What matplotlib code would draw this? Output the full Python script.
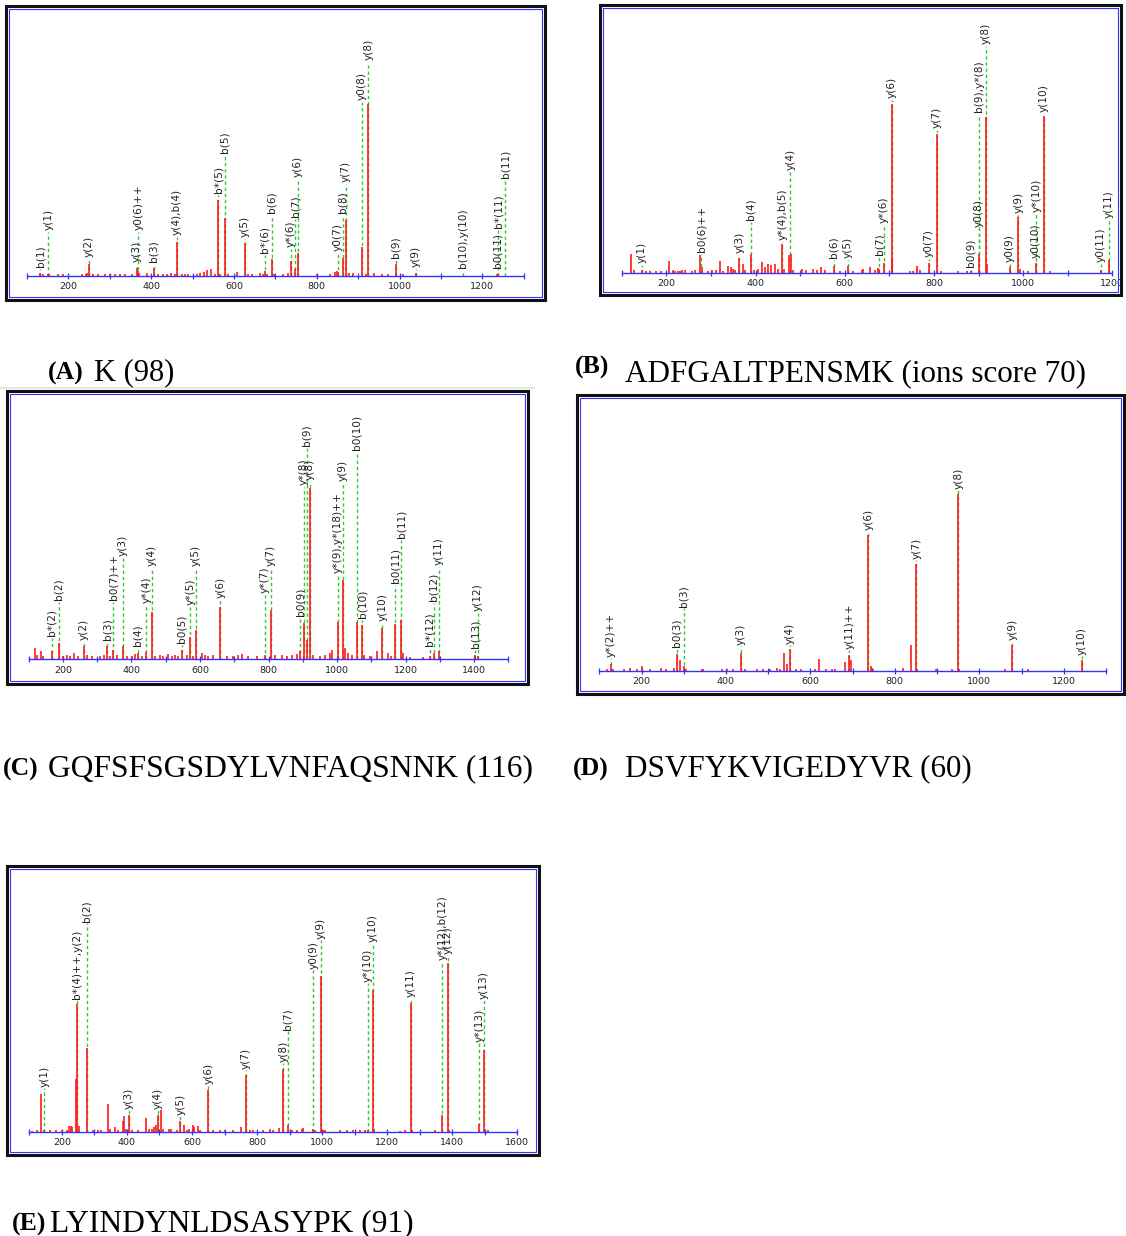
import matplotlib
matplotlib.use("Agg")
import matplotlib.pyplot as plt
from matplotlib.patches import Rectangle
import numpy as np

# ---------------- DATA (m/z, relative intensity) ----------------
# Panel A : K (98)
a_mz = [132, 140, 152, 154, 176, 188, 232, 243, 246, 249, 260, 272, 289, 301, 313, 325, 337, 353,
        365, 369, 371, 389, 407, 417, 429, 438, 447, 458, 463, 474, 482, 490, 510, 518, 528, 534,
        544, 554, 562, 566, 578, 586, 608, 627, 635, 644, 663, 671, 675, 679, 691, 697, 719, 731,
        738, 748, 754, 800, 832, 844, 848, 851, 863, 870, 879, 888, 909, 919, 925, 938, 957, 973,
        991, 1008, 1039, 1235, 1237]
a_int = [3, 2, 2, 2, 2, 2, 2, 2, 3, 12, 2, 2, 2, 2, 2, 2, 2, 2,
         8, 5, 3, 3, 8, 2, 2, 2, 3, 2, 34, 2, 2, 2, 2, 3, 4, 6,
         7, 2, 76, 2, 58, 2, 4, 33, 2, 2, 3, 2, 5, 2, 17, 2, 2, 3,
         15, 7, 23, 2, 2, 4, 5, 4, 18, 56, 3, 3, 29, 2, 172, 3, 2, 2,
         12, 2, 3, 2, 2]
a_lab = ["b(1)", "y(1)", "y(2)", "y(3)", "y0(6)++", "b(3)", "y(4),b(4)", "b*(5)", "b(5)", "y(5)",
         "b*(6)", "b(6)", "y*(6)", "b(7)", "y(6)", "y0(7)", "b(8)", "y(7)", "y0(8)", "y(8)", "b(9)",
         "y(9)", "b(10),y(10)", "b0(11)", "b*(11)", "b(11)"]
a_lab_mz = [132, 152, 249, 365, 369, 407, 463, 562, 578, 627, 675, 691, 738, 748, 754, 851, 863,
            870, 909, 925, 991, 1039, 1154, 1237, 1239, 1255]
a_lab_h = [9, 46, 19, 14, 46, 14, 41, 83, 123, 39, 23, 63, 29, 59, 99, 25, 63, 94, 176, 216, 18,
           9, 8, 8, 48, 98]

# Panel B : ADFGALTPENSMK (ions score 70)
b_mz = [120, 128, 145, 154, 164, 178, 187, 205, 214, 220, 226, 231, 236, 242, 257, 264, 276, 281,
        294, 302, 311, 320, 328, 339, 345, 349, 354, 364, 371, 377, 389, 397, 406, 414, 421, 429,
        434, 444, 451, 460, 465, 475, 480, 485, 504, 513, 530, 537, 547, 556, 575, 590, 607, 619,
        638, 642, 657, 668, 675, 677, 687, 705, 707, 746, 754, 763, 769, 788, 806, 816, 855, 874,
        883, 900, 917, 920, 971, 989, 992, 1010, 1028, 1046, 1060, 1175, 1193]
b_int = [19, 3, 3, 2, 2, 2, 2, 12, 3, 2, 2, 2, 3, 3, 2, 3, 18, 6,
         2, 3, 3, 12, 2, 7, 6, 4, 3, 15, 9, 3, 19, 3, 4, 11, 6, 9,
         8, 9, 4, 29, 4, 18, 19, 3, 4, 3, 4, 3, 6, 3, 7, 2, 7, 2,
         3, 4, 6, 3, 5, 4, 10, 169, 14, 2, 2, 7, 3, 10, 139, 2, 2, 2,
         2, 19, 156, 9, 6, 56, 4, 2, 10, 157, 2, 3, 13]
b_lab = ["y(1)", "b0(6)++", "y(3)", "b(4)", "y*(4),b(5)", "y(4)", "b(6)", "y(5)", "b(7)", "y*(6)",
         "y(6)", "y0(7)", "y(7)", "b0(9)", "y0(8)", "b(9),y*(8)", "y(8)", "y0(9)", "y(9)", "y0(10)",
         "y*(10)", "y(10)", "y0(11)", "y(11)"]
b_lab_mz = [145, 278, 364, 389, 460, 478, 575, 607, 677, 687, 705, 788, 806, 883, 900, 901, 917,
            971, 989, 1028, 1030, 1046, 1175, 1193]
b_lab_h = [10, 21, 20, 53, 33, 103, 15, 15, 18, 50, 175, 16, 145, 6, 46, 161, 229, 11, 60, 15,
           61, 161, 11, 55]

# Panel C : GQFSFSGSDYLVNFAQSNNK (116)
c_mz = [118, 125, 135, 141, 168, 187, 201, 211, 221, 232, 245, 260, 271, 284, 308, 320, 330, 337,
        347, 359, 374, 386, 401, 410, 418, 430, 443, 460, 469, 483, 493, 508, 517, 527, 537, 547,
        561, 572, 581, 588, 605, 615, 624, 639, 659, 678, 697, 712, 722, 741, 766, 789, 807, 819,
        838, 853, 868, 882, 892, 904, 911, 921, 931, 950, 965, 979, 984, 1002, 1018, 1023, 1033,
        1043, 1058, 1074, 1079, 1096, 1116, 1132, 1150, 1159, 1170, 1187, 1192, 1213, 1252, 1271,
        1283, 1298, 1403, 1412]
c_int = [11, 4, 8, 3, 8, 16, 3, 4, 3, 6, 3, 13, 4, 3, 3, 4, 13, 3,
         9, 4, 13, 3, 3, 5, 6, 3, 7, 47, 3, 4, 3, 5, 3, 4, 3, 9,
         4, 22, 3, 29, 6, 4, 3, 4, 52, 3, 3, 4, 5, 3, 3, 4, 49, 4,
         4, 3, 4, 5, 8, 36, 19, 171, 4, 3, 4, 6, 9, 37, 79, 11, 6,
         4, 37, 34, 4, 3, 8, 31, 6, 3, 35, 39, 6, 2, 2, 3,
         6, 8, 4, 3]
c_lab = ["b*(2)", "b(2)", "y(2)", "b(3)", "b0(7)++", "y(3)", "b(4)", "y*(4)", "y(4)", "b0(5)",
         "y*(5)", "y(5)", "y(6)", "y*(7)", "y(7)", "b0(9)", "y*(8)", "b(9)", "y(8)",
         "y*(9),y*(18)++", "y(9)", "b0(10)", "b(10)", "y(10)", "b0(11)", "b(11)", "b*(12)", "b(12)",
         "y(11)", "b(13)", "y(12)"]
c_lab_mz = [168, 187, 260, 330, 347, 374, 418, 443, 460, 547, 572, 588, 659, 789, 807, 892, 904,
            912, 921, 1002, 1018, 1058, 1074, 1132, 1170, 1187, 1271, 1283, 1298, 1403, 1412]
c_lab_h = [23, 59, 19, 19, 59, 103, 13, 56, 93, 16, 54, 93, 61, 66, 93, 43, 174, 213, 179, 86,
           178, 209, 41, 38, 76, 121, 13, 58, 94, 11, 48]

# Panel D : DSVFYKVIGEDYVR (60)
d_mz = [118, 128, 133, 159, 173, 189, 200, 219, 245, 257, 277, 283, 291, 300, 305, 343, 346, 390,
        402, 417, 436, 445, 474, 488, 504, 520, 529, 538, 545, 552, 566, 577, 611, 620, 637, 651,
        658, 681, 692, 696, 737, 743, 747, 749, 820, 838, 851, 853, 897, 935, 950, 952, 1061,
        1078, 1116, 1243]
d_int = [2, 7, 2, 1.5, 3, 1.5, 5, 1.5, 3, 1.5, 3, 17, 11, 5, 1.5, 1.5, 1.5, 2,
         1.5, 1.5, 18, 1.5, 1.5, 1.5, 1.5, 3, 1.5, 18, 7, 22, 1.5, 2, 1.5, 12, 2, 1.5,
         1.5, 9, 16, 11, 136, 5, 3, 1.5, 3, 26, 107, 2, 1.5, 2, 177, 2, 1.5,
         26, 1.5, 11]
d_lab = ["y*(2)++", "b0(3)", "b(3)", "y(3)", "y(4)", "y(11)++", "y(6)", "y(7)", "y(8)", "y(9)",
         "y(10)"]
d_lab_mz = [128, 283, 300, 436, 552, 692, 737, 851, 950, 1078, 1243]
d_lab_h = [14, 24, 64, 26, 27, 22, 141, 112, 182, 31, 16]

# Panel E : LYINDYNLDSASYPK (91)
e_mz = [107, 123, 135, 146, 164, 181, 200, 215, 222, 227, 232, 244, 246, 252, 276, 297, 312, 320,
        341, 348, 364, 374, 387, 391, 397, 406, 415, 435, 459, 469, 476, 484, 489, 495, 506, 512,
        528, 535, 553, 564, 574, 584, 592, 602, 606, 620, 625, 650, 666, 686, 702, 727, 750, 765,
        778, 789, 819, 840, 850, 866, 881, 894, 907, 922, 937, 942, 973, 978, 996, 1004, 1009,
        1055, 1076, 1096, 1117, 1132, 1140, 1157, 1161, 1240, 1255, 1272, 1277, 1347, 1370, 1386,
        1391, 1483, 1498, 1511]
e_int = [1, 2, 38, 2, 2, 2, 2, 2, 6, 6, 5, 53, 128, 6, 84, 2, 2, 2,
         28, 3, 5, 2, 11, 16, 3, 17, 2, 2, 14, 3, 3, 5, 7, 17, 22, 3,
         3, 3, 2, 11, 7, 2, 3, 7, 5, 6, 2, 42, 2, 2, 2, 2, 5, 57,
         2, 2, 2, 3, 2, 4, 63, 7, 2, 2, 3, 4, 3, 2, 156, 2, 2,
         2, 2, 2, 2, 2, 2, 142, 3, 1, 2, 129, 2, 2, 17, 169,
         2, 8, 82, 2]
e_lab = ["y(1)", "b*(4)++,y(2)", "b(2)", "y(3)", "y(4)", "y(5)", "y(6)", "y(7)", "y(8)", "b(7)",
         "y0(9)", "y(9)", "y*(10)", "y(10)", "y(11)", "y*(12),b(12)", "y(12)", "y*(13)", "y(13)"]
e_lab_mz = [146, 246, 276, 406, 495, 564, 650, 765, 881, 894, 973, 996, 1140, 1157, 1272, 1370,
            1386, 1483, 1498]
e_lab_h = [45, 133, 210, 23, 23, 17, 48, 63, 70, 102, 163, 193, 150, 190, 135, 172, 178, 90, 133]

# captions
captions = [("(A)", "K (98)"),
            ("(B)", "ADFGALTPENSMK (ions score 70)"),
            ("(C)", "GQFSFSGSDYLVNFAQSNNK (116)"),
            ("(D)", "DSVFYKVIGEDYVR (60)"),
            ("(E)", "LYINDYNLDSASYPK (91)")]

# ---------------- DRAWING ----------------
W, H = 1126, 1236
fig = plt.figure(figsize=(W / 100, H / 100), dpi=100)
fig.patch.set_facecolor("white")

BLUE = "#3333ff"
RED = "#ff1a1a"
GREEN = "#2ecc2e"


def fx(x):
    return x / W


def fy(y):
    return 1 - y / H


def frame(x0, y0, x1, y1):
    fig.add_artist(Rectangle((fx(x0), fy(y1)), (x1 - x0) / W, (y1 - y0) / H,
                             transform=fig.transFigure, fill=False, ec="#111111", lw=2.2))
    fig.add_artist(Rectangle((fx(x0 + 3), fy(y1 - 3)), (x1 - x0 - 6) / W, (y1 - y0 - 6) / H,
                             transform=fig.transFigure, fill=False, ec=BLUE, lw=0.8))


def panel(px0, px1, base, top, xr, mz, inten, labs, lab_mz, lab_h):
    ax = fig.add_axes([fx(px0), fy(base), (px1 - px0) / W, (base - top) / H])
    ax.set_facecolor("none")
    ax.set_xlim(xr)
    ax.set_ylim(0, base - top)
    for s in ("left", "right", "top"):
        ax.spines[s].set_visible(False)
    ax.spines["bottom"].set_color(BLUE)
    ax.spines["bottom"].set_linewidth(1.0)
    ax.set_yticks([])
    ticks = np.arange(xr[0], xr[1] + 1, 100)
    ax.set_xticks(ticks)
    ax.set_xticklabels([str(t) if t % 200 == 0 else "" for t in ticks])
    ax.tick_params(axis="x", direction="inout", length=5, width=0.9, color=BLUE,
                   labelsize=6.8, labelcolor="#222222", pad=2)
    ax.vlines(lab_mz, 0, np.array(lab_h) - 1.5, colors=GREEN, linewidth=1.0,
              linestyles=(0, (2.4, 2.0)), zorder=1)
    ax.vlines(mz, 0, inten, colors=RED, linewidth=1.2, zorder=2)
    for lab, m, h in zip(labs, lab_mz, lab_h):
        ax.text(m, h, lab, rotation=90, ha="center", va="bottom", fontsize=7.6,
                color="#222222", family="DejaVu Sans", clip_on=False)
    return ax


# Panel frames
frame(6, 6, 545, 300)
frame(600, 5, 1121, 295)
frame(7, 391, 528, 684)
frame(577, 395, 1124, 694)
frame(7, 866, 539, 1155)

panel(26.9, 523.7, 276, 10, (100, 1300), a_mz, a_int, a_lab, a_lab_mz, a_lab_h)
panel(621.7, 1112.3, 273, 9, (100, 1200), b_mz, b_int, b_lab, b_lab_mz, b_lab_h)
panel(28.7, 508.3, 659.3, 395, (100, 1500), c_mz, c_int, c_lab, c_lab_mz, c_lab_h)
panel(599.3, 1106, 670.7, 399, (100, 1300), d_mz, d_int, d_lab, d_lab_mz, d_lab_h)
panel(29.3, 517.3, 1131.7, 870, (100, 1600), e_mz, e_int, e_lab, e_lab_mz, e_lab_h)

# faint separator under caption A
fig.add_artist(plt.Line2D([fx(0), fx(534)], [fy(388), fy(388)], transform=fig.transFigure,
                          color="#e6e6e6", lw=1.5))

# Captions
SERIF = ["Liberation Serif", "DejaVu Serif"]
cap_pos = [(48, 380, 94, 380), (575, 374, 625, 381), (3, 776, 48, 776),
           (573, 776, 625, 776), (12, 1231, 50, 1231)]
cap_size = [22, 22.4, 22.7, 22.4, 22.7]
for (tag, txt), (tx, ty, mx, my), fs in zip(captions, cap_pos, cap_size):
    fig.text(fx(tx), fy(ty), tag, fontsize=18.5, fontweight="bold", family=SERIF,
             va="baseline", ha="left", color="black")
    fig.text(fx(mx), fy(my), txt, fontsize=fs, family=SERIF, va="baseline", ha="left",
             color="black")

fig.savefig("out.png", dpi=100, facecolor="white")
